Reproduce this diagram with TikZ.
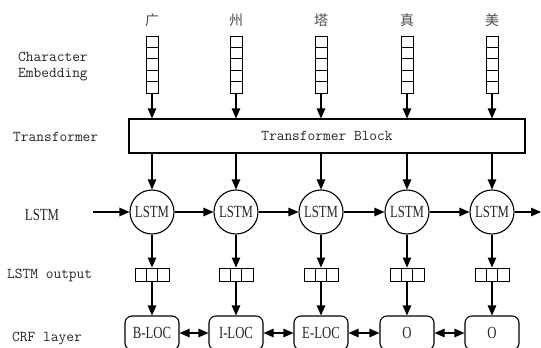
\documentclass[tikz,border=0pt]{standalone}
\usepackage{fontspec}
\newfontfamily\cjk{Noto Sans CJK SC}
\newfontfamily\narrowserif[FakeStretch=0.75]{Liberation Serif}
\usetikzlibrary{arrows.meta,calc}

\tikzset{
  lbl/.style={anchor=west, inner sep=0pt, text=black!85, font=\fontsize{15}{18}\selectfont\ttfamily},
  chr/.style={inner sep=0pt, text=black!70, font=\fontsize{14}{16}\selectfont\cjk},
  embcol/.style={draw, line width=1pt, minimum width=12pt, minimum height=57pt, inner sep=0pt,
    path picture={
      \foreach \k in {1,...,4}{
        \draw[line width=1pt] ($(path picture bounding box.north west)!\k/5!(path picture bounding box.south west)$)
          -- ($(path picture bounding box.north east)!\k/5!(path picture bounding box.south east)$);
      }}},
  outvec/.style={draw, line width=1pt, minimum width=34pt, minimum height=13pt, inner sep=0pt,
    path picture={
      \foreach \k in {1,2}{
        \draw[line width=1pt] ($(path picture bounding box.north west)!\k/3!(path picture bounding box.north east)$)
          -- ($(path picture bounding box.south west)!\k/3!(path picture bounding box.south east)$);
      }}},
  tblock/.style={draw, line width=1.1pt, minimum width=396pt, minimum height=34pt, inner sep=0pt,
    text=black!85, font=\fontsize{15}{18}\selectfont\ttfamily},
  cell/.style={circle, draw, line width=1.1pt, minimum size=44pt, inner sep=0pt,
    text=black!85, font=\fontsize{17}{19}\selectfont\narrowserif},
  crf/.style={draw, rounded corners=7pt, line width=1.1pt, minimum width=54pt, minimum height=34pt,
    inner sep=0pt, text=black!85, font=\fontsize{17}{19}\selectfont\narrowserif},
  arr/.style={line width=1.1pt, -{Triangle[length=10pt,width=8.5pt]}},
  dbl/.style={line width=1.1pt, {Triangle[length=10pt,width=8.5pt]}-{Triangle[length=10pt,width=8.5pt]}},
}

\begin{document}
\begin{tikzpicture}[x=1pt,y=-1pt]
\useasboundingbox (0,0) rectangle (541,348);

% row labels
\node[lbl] (lchar) at (18,57) {Character};
\node[lbl] (lemb) at (18,75) {Embedding};
\node[lbl] (ltrans) at (13,137) {Transformer};
\node[inner sep=0pt, text=black!85, font=\fontsize{17}{19}\selectfont\narrowserif] (llstm) at (42,215) {LSTM};
\node[lbl] (lout) at (7,275) {LSTM output};
\node[lbl] (lcrf) at (12,339) {CRF layer};

% shared transformer block
\node[tblock] (tb) at (327,136) {Transformer Block};

% one column per character
\foreach \i/\x/\c/\tag in {1/152/广/B-LOC, 2/236/州/I-LOC, 3/321/塔/E-LOC, 4/407/真/O, 5/492/美/O}{
  \node[chr] (c\i) at (\x,20) {\c};
  \node[embcol] (e\i) at (\x,64.5) {};
  \node[cell] (l\i) at (\x,212) {LSTM};
  \node[outvec] (o\i) at (\x,274.5) {};
  \node[crf] (r\i) at (\x,333) {\tag};
  \draw[arr] (e\i.south) -- (e\i.south |- tb.north);
  \draw[arr] (tb.south -| l\i) -- (l\i.north);
  \draw[arr] (l\i.south) -- (o\i.north);
  \draw[arr] (o\i.south) -- (r\i.north);
}

% recurrent chain
\coordinate (lin) at (93,212);
\coordinate (lend) at (541,212);
\draw[arr] (lin) -- (l1);
\draw[arr] (l1) -- (l2);
\draw[arr] (l2) -- (l3);
\draw[arr] (l3) -- (l4);
\draw[arr] (l4) -- (l5);
\draw[arr] (l5) -- (lend);

% CRF transitions
\draw[dbl] (r1) -- (r2);
\draw[dbl] (r2) -- (r3);
\draw[dbl] (r3) -- (r4);
\draw[dbl] (r4) -- (r5);
\end{tikzpicture}
\end{document}
